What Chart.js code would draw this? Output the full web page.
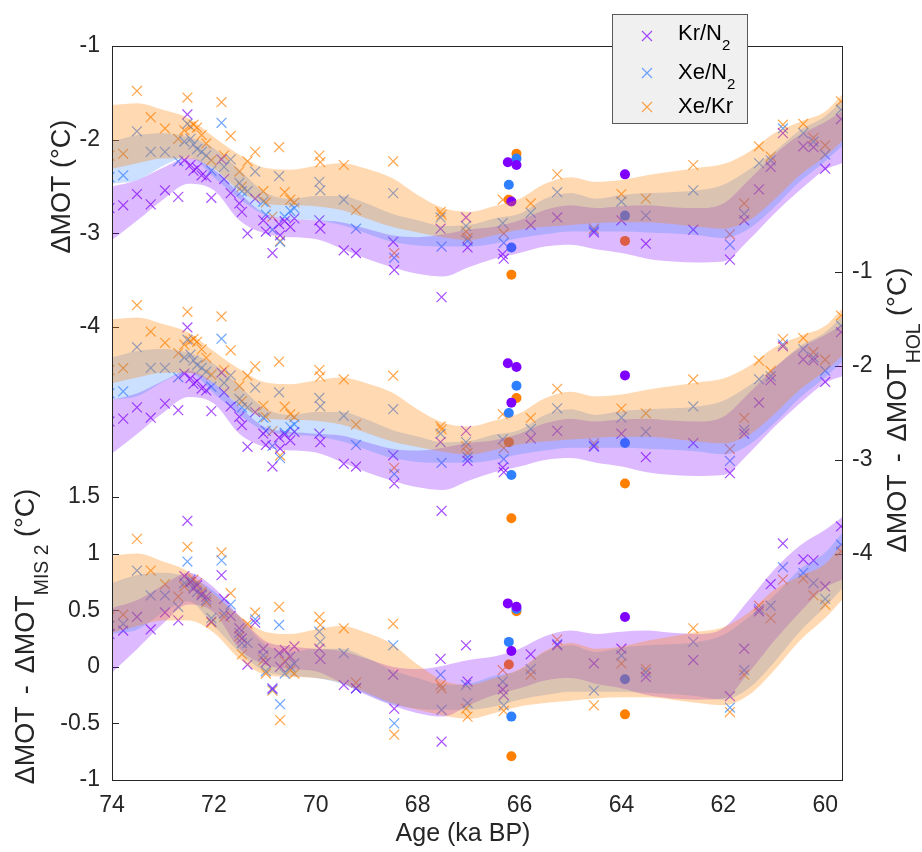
<!DOCTYPE html>
<html>
<head>
<meta charset="utf-8">
<script src="https://cdn.jsdelivr.net/npm/chart.js@4.4.1/dist/chart.umd.min.js"></script>
<style>
html,body{margin:0;padding:0;background:#ffffff;}
#box{position:relative;width:922px;height:852px;}
canvas{display:block;}
</style>
</head>
<body>
<div id="box"><canvas id="chart" width="922" height="852"></canvas></div>
<script>
// ================= DATA =================
const xTicks = [74, 72, 70, 68, 66, 64, 62, 60];
const leftTopTicks = [-1, -2, -3, -4];
const leftBottomTicks = [1.5, 1, 0.5, 0, -0.5, -1];
const rightTicks = [-1, -2, -3, -4];
const seriesNames = ['Kr/N2', 'Xe/N2', 'Xe/Kr'];

// sample ages (ka BP) shared by the three gas ratios
const sampleAges = [74.05,73.78,73.51,73.24,72.96,72.70,72.58,72.52,72.46,72.40,72.33,72.24,72.15,72.05,71.85,71.80,71.67,71.50,71.45,71.34,71.19,71.03,70.98,70.85,70.72,70.70,70.61,70.50,70.42,69.93,69.91,69.45,69.21,68.48,68.46,67.55,67.53,67.05,67.02,66.33,66.31,65.78,65.26,64.54,64.00,63.52,62.59,61.87,61.59,61.30,61.07,60.83,60.43,60.23,60.00,59.69];
// ΔMOT (°C) per sample
const krN2 = [-2.73,-2.70,-2.58,-2.69,-2.54,-2.61,-2.22,-1.73,-2.27,-2.33,-2.30,-2.38,-2.40,-2.62,-2.21,-2.42,-2.57,-2.68,-2.77,-3.00,-2.63,-2.86,-2.98,-3.21,-2.90,-3.02,-2.87,-2.93,-2.84,-2.86,-2.95,-3.18,-3.21,-3.09,-3.39,-2.95,-3.68,-2.83,-3.15,-3.22,-3.27,-2.91,-2.83,-2.99,-2.86,-3.11,-2.96,-3.28,-2.86,-2.53,-2.29,-1.93,-2.07,-2.08,-2.31,-1.78];
const xeN2 = [-2.40,-2.38,-1.91,-2.13,-2.13,-2.23,-2.02,-1.83,-1.99,-2.05,-2.10,-2.13,-2.17,-2.33,-1.82,-2.29,-2.21,-2.46,-2.55,-2.55,-2.34,-2.66,-2.80,-2.96,-2.39,-3.09,-2.82,-2.76,-2.73,-2.45,-2.54,-2.64,-2.95,-2.57,-3.26,-2.83,-3.14,-2.92,-3.08,-2.89,-3.10,-2.78,-2.56,-2.97,-2.66,-2.81,-2.54,-3.12,-2.79,-2.25,-2.22,-1.88,-1.93,-2.02,-2.16,-1.68];
const xeKr = [-2.17,-2.15,-1.48,-1.76,-1.88,-1.99,-1.90,-1.55,-1.86,-1.84,-1.87,-1.95,-2.04,-2.22,-1.60,-2.17,-1.96,-2.34,-2.50,-2.23,-2.13,-2.55,-2.67,-2.82,-2.08,-3.08,-2.56,-2.64,-2.67,-2.17,-2.24,-2.27,-2.75,-2.23,-3.21,-2.77,-2.80,-2.98,-3.05,-2.64,-3.00,-2.68,-2.37,-2.95,-2.58,-2.63,-2.27,-3.01,-2.68,-2.07,-2.18,-1.84,-1.83,-1.98,-2.06,-1.59];

// reference levels subtracted in the lower panels (Kr/N2, Xe/N2, Xe/Kr)
const holRef = [-0.14, -0.11, -0.127];
const mis2Ref = [-3.02, -2.76, -2.61];

// uncertainty envelopes of ΔMOT
const bandAges = [74,73.5,73,72.5,72,71.5,71,70.5,70,69.5,69,68.5,68,67.5,67,66.5,66,65.5,65,64.5,64,63.5,63,62.5,62,61.5,61,60.5,60,59.67];
const krN2Upper = [-2.50,-2.43,-2.30,-2.19,-2.32,-2.57,-2.79,-2.84,-2.86,-2.88,-2.95,-3.02,-3.04,-3.01,-2.96,-2.93,-2.86,-2.75,-2.70,-2.73,-2.71,-2.70,-2.72,-2.73,-2.68,-2.43,-2.16,-1.95,-1.81,-1.70];
const krN2Lower = [-3.07,-2.86,-2.64,-2.47,-2.54,-2.86,-3.00,-3.04,-3.06,-3.16,-3.27,-3.36,-3.43,-3.46,-3.36,-3.27,-3.21,-3.14,-3.12,-3.17,-3.21,-3.27,-3.30,-3.31,-3.30,-3.07,-2.79,-2.54,-2.32,-2.25];
const xeN2Upper = [-2.02,-1.95,-1.93,-1.97,-2.09,-2.32,-2.56,-2.63,-2.60,-2.60,-2.68,-2.79,-2.86,-2.92,-2.91,-2.84,-2.79,-2.63,-2.57,-2.63,-2.59,-2.57,-2.56,-2.54,-2.48,-2.32,-2.13,-1.90,-1.75,-1.58];
const xeN2Lower = [-2.47,-2.43,-2.28,-2.18,-2.40,-2.63,-2.80,-2.84,-2.86,-2.91,-3.00,-3.09,-3.13,-3.14,-3.14,-3.11,-3.05,-3.01,-2.98,-2.98,-2.98,-2.99,-3.00,-3.02,-3.05,-2.95,-2.72,-2.45,-2.23,-2.07];
const xeKrUpper = [-1.63,-1.61,-1.68,-1.77,-1.97,-2.16,-2.30,-2.32,-2.28,-2.25,-2.31,-2.41,-2.59,-2.73,-2.77,-2.71,-2.63,-2.47,-2.40,-2.45,-2.43,-2.38,-2.34,-2.30,-2.26,-2.13,-1.93,-1.81,-1.70,-1.52];
const xeKrLower = [-2.31,-2.25,-2.20,-2.20,-2.31,-2.54,-2.68,-2.70,-2.71,-2.75,-2.84,-2.93,-2.99,-3.04,-3.07,-3.02,-2.96,-2.93,-2.91,-2.89,-2.88,-2.88,-2.90,-2.93,-2.95,-2.86,-2.64,-2.38,-2.18,-2.02];

// filled-circle values, read per panel
const krN2DotAges = [66.23, 66.06, 66.16, 63.93];
const krN2DotTop  = [-2.24, -2.27, -2.66, -2.37];
const krN2DotHol  = [-1.97, -2.01, -2.39, -2.10];
const krN2DotMis  = [0.56, 0.53, 0.14, 0.44];
const xeN2DotAges = [66.06, 66.21, 66.16, 63.93];
const xeN2DotTop  = [-2.20, -2.48, -3.15, -2.81];
const xeN2DotHol  = [-2.21, -2.50, -3.16, -2.82];
const xeN2DotMis  = [0.51, 0.22, -0.44, -0.11];
const xeKrDotAges = [66.06, 66.21, 66.16, 63.93];
const xeKrDotTop  = [-2.15, -2.64, -3.44, -3.08];
const xeKrDotHol  = [-2.34, -2.81, -3.62, -3.25];
const xeKrDotMis  = [0.49, 0.02, -0.79, -0.42];

// ================= STYLE =================
const FONT = "'Liberation Sans', Arial, Helvetica, sans-serif";
const INK = '#262626';
const seriesRGB = ['128,0,255', '47,128,255', '255,128,0'];
const crossAlpha = 0.7;
const bandAlpha = [0.27, 0.25, 0.3];
const TICK_SIZE = 23, TITLE_SIZE = 27;

// ================= BUILD =================
const seriesVals = [krN2, xeN2, xeKr];
const seriesUpper = [krN2Upper, xeN2Upper, xeKrUpper];
const seriesLower = [krN2Lower, xeN2Lower, xeKrLower];
const dotAges = [krN2DotAges, xeN2DotAges, xeKrDotAges];

const panels = [
  { axis: 'yTop', refs: [0, 0, 0], dots: [krN2DotTop, xeN2DotTop, xeKrDotTop] },
  { axis: 'yHol', refs: holRef,    dots: [krN2DotHol, xeN2DotHol, xeKrDotHol] },
  { axis: 'yBot', refs: mis2Ref,   dots: [krN2DotMis, xeN2DotMis, xeKrDotMis] }
];

const pts = (xs, ys, ref) => xs.map((x, i) => ({ x: x, y: +(ys[i] - ref).toFixed(3) }));

const datasets = [];
panels.forEach(p => {
  [0, 1, 2].forEach(s => {
    const rgb = seriesRGB[s];
    const lowerIndex = datasets.length + 1;
    datasets.push({
      type: 'line', label: seriesNames[s] + ' band', yAxisID: p.axis, xAxisID: 'x',
      data: pts(bandAges, seriesUpper[s], p.refs[s]),
      showLine: true, borderWidth: 0, borderColor: 'rgba(0,0,0,0)', pointRadius: 0,
      cubicInterpolationMode: 'monotone',
      backgroundColor: 'rgba(' + rgb + ',' + bandAlpha[s] + ')',
      fill: { target: lowerIndex },
      order: 2 - s
    });
    datasets.push({
      type: 'line', label: seriesNames[s] + ' band low', yAxisID: p.axis, xAxisID: 'x',
      data: pts(bandAges, seriesLower[s], p.refs[s]),
      showLine: true, borderWidth: 0, borderColor: 'rgba(0,0,0,0)', pointRadius: 0,
      cubicInterpolationMode: 'monotone', fill: false, order: 2 - s
    });
    datasets.push({
      type: 'scatter', label: seriesNames[s] + ' dots', yAxisID: p.axis, xAxisID: 'x',
      data: pts(dotAges[s], p.dots[s], 0),
      pointStyle: 'circle', pointRadius: 5, borderWidth: 0,
      backgroundColor: 'rgb(' + rgb + ')', borderColor: 'rgb(' + rgb + ')',
      order: 3 + s
    });
    datasets.push({
      type: 'scatter', label: seriesNames[s], yAxisID: p.axis, xAxisID: 'x',
      data: pts(sampleAges, seriesVals[s], p.refs[s]),
      pointStyle: 'crossRot', pointRadius: 7, borderWidth: 1.2,
      borderColor: 'rgba(' + rgb + ',' + crossAlpha + ')', backgroundColor: 'rgba(0,0,0,0)',
      order: 6 + s
    });
  });
});

function setTicks(list) { return s => { s.ticks = list.map(v => ({ value: v })); }; }

function yScale(pos, min, max, list, extra) {
  return Object.assign({
    type: 'linear', position: pos, min: min, max: max,
    afterBuildTicks: setTicks(list),
    afterFit: s => { s.width = pos === 'left' ? 112 : 80; },
    grid: { display: false, drawTicks: false },
    border: { display: true, color: INK, width: 1 },
    ticks: { autoSkip: false, color: INK, padding: pos === 'left' ? 12 : 10,
             font: { size: TICK_SIZE, family: FONT }, callback: v => String(v) }
  }, extra || {});
}

// rich text with subscripts, rotated about its centre
function drawRich(ctx, parts, x, y, rot, size) {
  const subSize = size * 0.72, drop = size * 0.5;
  let total = 0;
  parts.forEach(p => {
    ctx.font = (p.sub ? subSize : size) + 'px ' + FONT;
    p.w = ctx.measureText(p.t).width + (p.gap || 0) * 2;
    total += p.w;
  });
  ctx.save();
  ctx.translate(x, y);
  ctx.rotate(rot);
  ctx.textAlign = 'left';
  ctx.textBaseline = 'alphabetic';
  ctx.fillStyle = INK;
  let cx = -total / 2;
  parts.forEach(p => {
    ctx.font = (p.sub ? subSize : size) + 'px ' + FONT;
    ctx.fillText(p.t, cx + (p.gap || 0), p.sub ? drop : 0);
    cx += p.w;
  });
  ctx.restore();
}

const decor = {
  id: 'decor',
  beforeDatasetsDraw(chart) {
    const ctx = chart.ctx;
    ctx.save();
    ctx.strokeStyle = INK; ctx.lineWidth = 1;
    [['yTop', 1], ['yBot', 1], ['yHol', -1]].forEach(([id, dir]) => {
      const s = chart.scales[id];
      const x0 = dir > 0 ? chart.chartArea.left : chart.chartArea.right;
      s.ticks.forEach(t => {
        const y = Math.round(s.getPixelForValue(t.value)) + 0.5;
        ctx.beginPath(); ctx.moveTo(x0, y); ctx.lineTo(x0 + dir * 7, y); ctx.stroke();
      });
    });
    ctx.restore();
  },
  afterDraw(chart) {
    const ctx = chart.ctx, ca = chart.chartArea;
    ctx.save();
    ctx.strokeStyle = INK; ctx.lineWidth = 1;
    ctx.strokeRect(ca.left + 0.5, ca.top + 0.5, ca.right - ca.left, ca.bottom - ca.top);

    const yT = chart.scales.yTop, yB = chart.scales.yBot, yH = chart.scales.yHol;
    const topMid = (yT.getPixelForValue(leftTopTicks[0]) + yT.getPixelForValue(leftTopTicks[leftTopTicks.length - 1])) / 2;
    const botMid = (yB.getPixelForValue(leftBottomTicks[0]) + yB.getPixelForValue(leftBottomTicks[leftBottomTicks.length - 1])) / 2;
    const rightMid = (yH.getPixelForValue(rightTicks[0]) + yH.getPixelForValue(rightTicks[rightTicks.length - 1])) / 2;
    drawRich(ctx, [{ t: 'ΔMOT (°C)' }], 70, topMid, -Math.PI / 2, TITLE_SIZE);
    drawRich(ctx, [{ t: 'ΔMOT' }, { t: '-', gap: 12 }, { t: 'ΔMOT' }, { t: 'MIS 2', sub: true }, { t: ' (°C)' }], 34, botMid - 2, -Math.PI / 2, TITLE_SIZE);
    drawRich(ctx, [{ t: 'ΔMOT' }, { t: '-', gap: 12 }, { t: 'ΔMOT' }, { t: 'HOL', sub: true }, { t: ' (°C)' }], 906, rightMid - 3, -Math.PI / 2, TITLE_SIZE);
    drawRich(ctx, [{ t: 'Age (ka BP)' }], 463, 841, 0, 25);

    // legend
    const L = { x: 612, y: 14, w: 135, h: 109 };
    ctx.fillStyle = '#f0f0f0';
    ctx.fillRect(L.x, L.y, L.w, L.h);
    ctx.strokeStyle = '#5a5a5a'; ctx.lineWidth = 1;
    ctx.strokeRect(L.x + 0.5, L.y + 0.5, L.w, L.h);
    const rows = [
      { parts: [{ t: 'Kr/N' }, { t: '2', sub: true }], my: 36, by: 39.5 },
      { parts: [{ t: 'Xe/N' }, { t: '2', sub: true }], my: 73, by: 78.5 },
      { parts: [{ t: 'Xe/Kr' }], my: 107, by: 112.5 }
    ];
    rows.forEach((r, i) => {
      const mx = 647, d = 5;
      ctx.strokeStyle = 'rgba(' + seriesRGB[i] + ',' + crossAlpha + ')';
      ctx.lineWidth = 1.2;
      ctx.beginPath();
      ctx.moveTo(mx - d, r.my - d); ctx.lineTo(mx + d, r.my + d);
      ctx.moveTo(mx - d, r.my + d); ctx.lineTo(mx + d, r.my - d);
      ctx.stroke();
      let x = 678;
      ctx.fillStyle = '#000000';
      ctx.textAlign = 'left'; ctx.textBaseline = 'alphabetic';
      r.parts.forEach(p => {
        const size = p.sub ? 15 : 22;
        ctx.font = size + 'px ' + FONT;
        ctx.fillText(p.t, x, r.by + (p.sub ? 10.5 : 0));
        x += ctx.measureText(p.t).width;
      });
    });
    ctx.restore();
  }
};

new Chart(document.getElementById('chart'), {
  type: 'scatter',
  data: { datasets: datasets },
  options: {
    responsive: false, animation: false, devicePixelRatio: 1, events: [],
    layout: { padding: { top: 46, left: 0, right: 0, bottom: 0 } },
    plugins: { legend: { display: false }, tooltip: { enabled: false }, title: { display: false } },
    scales: {
      x: {
        type: 'linear', position: 'bottom', reverse: true, min: 59.67, max: 74,
        afterBuildTicks: setTicks(xTicks),
        afterFit: s => { s.height = 72; },
        grid: { display: false, drawTicks: false },
        border: { display: true, color: INK, width: 1 },
        ticks: { autoSkip: false, maxRotation: 0, color: INK, padding: 12,
                 font: { size: TICK_SIZE, family: FONT }, callback: v => String(v) }
      },
      yTop: yScale('left', -4.9167, -1, leftTopTicks, { stack: 'left', stackWeight: 1, weight: 2 }),
      yBot: yScale('left', -1, 2.242, leftBottomTicks, { stack: 'left', stackWeight: 1, weight: 1 }),
      yHol: yScale('right', -6.4043, 1.4043, rightTicks)
    }
  },
  plugins: [decor]
});
</script>
</body>
</html>
